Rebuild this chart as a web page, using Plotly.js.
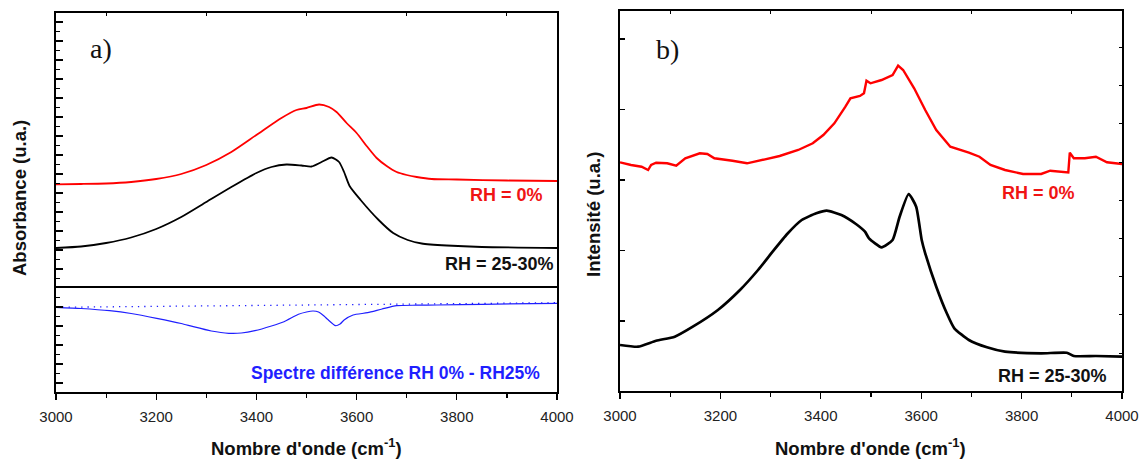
<!DOCTYPE html>
<html>
<head>
<meta charset="utf-8">
<script src="https://cdn.plot.ly/plotly-3.0.1.min.js"></script>
<style>html,body{margin:0;padding:0;background:#fff;}#chart{width:1139px;height:461px;}</style>
</head>
<body>
<div id="chart"></div>
<script>
// ---------- Panel a) : FTIR absorbance (arbitrary units) ----------
const aRedWn   = [3000,3050,3100,3150,3200,3250,3300,3350,3400,3450,3480,3500,3525,3545,3560,3580,3600,3620,3640,3660,3680,3700,3720,3750,3800,3900,4000];
const aRedAbs  = [103.7,104,104.5,106,109,114,123,136,153,170,178,180,183.5,181,176,165,155,142,130,122,116,113,111,109,108.5,107.5,107];

const aBlackWn  = [3000,3050,3100,3150,3200,3250,3300,3350,3400,3430,3460,3490,3510,3530,3550,3565,3575,3586,3608,3644,3673,3702,3730,3780,3850,4000];
const aBlackAbs = [40,41.5,45,50.5,59,71,86,101,115,121,123.5,122.5,121.5,126,130.5,126,116,102,88,68,55,48,44.5,42.5,41,40];

const diffWn  = [3000,3050,3107,3150,3201,3250,3274,3310,3345,3370,3397,3430,3455,3484,3500,3513,3524,3535,3542,3558,3567,3575,3593,3622,3651,3680,3720,3760,3850,4000];
const diffAbs = [84.7,83.5,81.3,78.5,73.7,68.5,65.3,61,58.7,59,61.3,66,70.3,77.7,80,81,80,76,72.7,66.3,68,72,77,79.3,83,86.3,86.8,87,87.7,88.7];
const baseWn  = [3000,4000];
const baseAbs = [84.7,89.3];

// ---------- Panel b) : Raman intensity (arbitrary units) ----------
const bRedWn  = [3000,3022,3043,3056,3062,3072,3094,3112,3130,3159,3174,3188,3224,3253,3289,3318,3355,3384,3405,3427,3449,3459,3478,3486,3491,3499,3521,3543,3554,3564,3586,3608,3630,3658,3695,3716,3738,3767,3803,3839,3857,3886,3893,3896,3904,3926,3948,3970,4000];
const bRedInt = [228.7,226,224.3,221,226,228.3,227.7,225.3,232.7,237.7,237,232.7,230.3,227.7,231.7,235,241,247.7,256,267.7,284.3,292.7,295,297.7,310.3,307.7,311,316,325.3,321,302.7,281,261,244.3,238.3,234.3,226,221,217,217,220.3,218.3,218.5,238.3,232.7,232.7,234.3,228.7,227];

const bBlackWn  = [3000,3036,3072,3109,3145,3195,3239,3275,3304,3333,3362,3391,3412,3441,3470,3488,3496,3521,3543,3557,3575,3590,3601,3608,3630,3651,3666,3695,3731,3767,3839,3890,3904,3948,4000];
const bBlackInt = [46,44.3,50.3,54.3,64.3,81,101,121,139.3,157,171,177.7,180.3,176,167,159.3,152.7,143.7,151,174.3,197,184.3,151,137.7,104.3,77.7,62.7,51,43.7,39.3,37.7,38.3,35,35,34.3];

const xTickVals = [3000,3200,3400,3600,3800,4000];
const xTickText = ['3000','3200','3400','3600','3800','4000'];

const W = 1139, H = 461;
const px = v => v / W;
const py = v => 1 - v / H;

const RED = '#ff0000', BLUE = '#1f1fff', BLACK = '#000000';
const FONT = 'Liberation Sans, Arial, sans-serif';

const traces = [
  {x: aRedWn, y: aRedAbs, xaxis: 'x', yaxis: 'y', mode: 'lines', line: {color: RED, width: 1.8, shape: 'spline', smoothing: 0.7}, hoverinfo: 'skip'},
  {x: aBlackWn, y: aBlackAbs, xaxis: 'x', yaxis: 'y', mode: 'lines', line: {color: BLACK, width: 1.8, shape: 'spline', smoothing: 0.6}, hoverinfo: 'skip'},
  {x: baseWn, y: baseAbs, xaxis: 'x', yaxis: 'y2', mode: 'lines', line: {color: BLUE, width: 1.3, dash: '1.3px,5px'}, hoverinfo: 'skip'},
  {x: diffWn, y: diffAbs, xaxis: 'x', yaxis: 'y2', mode: 'lines', line: {color: BLUE, width: 1.2, shape: 'spline', smoothing: 0.6}, hoverinfo: 'skip'},
  {x: bRedWn, y: bRedInt, xaxis: 'x2', yaxis: 'y3', mode: 'lines', line: {color: RED, width: 2.4}, hoverinfo: 'skip'},
  {x: bBlackWn, y: bBlackInt, xaxis: 'x2', yaxis: 'y3', mode: 'lines', line: {color: BLACK, width: 2.7, shape: 'spline', smoothing: 0.5}, hoverinfo: 'skip'},
  // carriers for the decorative overlay axes (no visible marks)
  {x: [3000], y: [0], xaxis: 'x3', yaxis: 'y', mode: 'lines', hoverinfo: 'skip'},
  {x: [3000], y: [0], xaxis: 'x4', yaxis: 'y3', mode: 'lines', hoverinfo: 'skip'},
  {x: [3000], y: [0], xaxis: 'x2', yaxis: 'y4', mode: 'lines', hoverinfo: 'skip'}
];

const tickFont = {family: FONT, size: 15, color: '#222'};
const xBase = {
  range: [3000, 4000], showgrid: false, zeroline: false, showline: true, linecolor: BLACK, linewidth: 1.6,
  ticks: 'outside', ticklen: 6, tickwidth: 1.3, tickcolor: BLACK, tickmode: 'array', tickvals: xTickVals, ticktext: xTickText,
  tickfont: tickFont, ticklabelstandoff: 4,
  minor: {dtick: 100, tick0: 3000, ticks: 'outside', ticklen: 4, tickwidth: 1.2, tickcolor: BLACK, showgrid: false}
};
const xTop = {
  range: [3000, 4000], showgrid: false, zeroline: false, showline: true, linecolor: BLACK, linewidth: 1.6,
  side: 'top', ticks: 'inside', ticklen: 3, tickwidth: 1, tickcolor: BLACK, tick0: 3100, dtick: 200, showticklabels: false
};

const layout = {
  width: W, height: H, margin: {l: 0, r: 0, t: 0, b: 0}, paper_bgcolor: '#fff', plot_bgcolor: 'rgba(0,0,0,0)',
  showlegend: false, font: {family: FONT, color: BLACK},
  xaxis: Object.assign({}, xBase, {domain: [px(56), px(557)], anchor: 'y2', mirror: true}),
  xaxis3: Object.assign({}, xTop, {overlaying: 'x', anchor: 'y'}),
  xaxis2: Object.assign({}, xBase, {domain: [px(620), px(1122)], anchor: 'y3'}),
  xaxis4: Object.assign({}, xTop, {overlaying: 'x2', anchor: 'y3'}),
  yaxis: {domain: [py(288), py(12.5)], anchor: 'x', range: [0, 275.5], showgrid: false, zeroline: false,
    showline: true, mirror: true, linecolor: BLACK, linewidth: 1.6, ticks: 'inside', ticklen: 7, tickwidth: 1.3, tickcolor: BLACK,
    tick0: 0, dtick: 19, showticklabels: false,
    minor: {dtick: 9.5, tick0: 0, ticks: 'inside', ticklen: 3.5, tickwidth: 1.2, tickcolor: BLACK, showgrid: false}},
  yaxis2: {domain: [py(392), py(288)], anchor: 'x', range: [0, 104], showgrid: false, zeroline: false,
    showline: true, mirror: true, linecolor: BLACK, linewidth: 1.6, ticks: 'inside', ticklen: 7, tickwidth: 1.3, tickcolor: BLACK,
    tick0: 9, dtick: 19, showticklabels: false,
    minor: {dtick: 9.5, tick0: 9, ticks: 'inside', ticklen: 3.5, tickwidth: 1.2, tickcolor: BLACK, showgrid: false}},
  yaxis3: {domain: [py(391), py(11)], anchor: 'x2', range: [0, 380], showgrid: false, zeroline: false,
    showline: true, linecolor: BLACK, linewidth: 1.6, ticks: 'inside', ticklen: 5, tickwidth: 1.3, tickcolor: BLACK,
    tick0: 70, dtick: 70.5, showticklabels: false},
  yaxis4: {overlaying: 'y3', anchor: 'x2', side: 'right', range: [0, 380], showgrid: false, zeroline: false,
    showline: true, linecolor: BLACK, linewidth: 1.6, ticks: 'inside', ticklen: 3, tickwidth: 1, tickcolor: BLACK,
    tick0: 38, dtick: 38.2, showticklabels: false},
  annotations: [
    {text: 'a)', x: px(88), y: py(48), xref: 'paper', yref: 'paper', xanchor: 'left', yanchor: 'middle', showarrow: false,
      font: {family: 'Liberation Serif, Times New Roman, serif', size: 28, color: '#111'}},
    {text: 'b)', x: px(654), y: py(50), xref: 'paper', yref: 'paper', xanchor: 'left', yanchor: 'middle', showarrow: false,
      font: {family: 'Liberation Serif, Times New Roman, serif', size: 28, color: '#111'}},
    {text: '<b>RH = 0%</b>', x: px(545), y: py(195), xref: 'paper', yref: 'paper', xanchor: 'right', yanchor: 'middle', showarrow: false,
      font: {family: FONT, size: 18, color: '#f01414'}},
    {text: '<b>RH = 25-30%</b>', x: px(556), y: py(264), xref: 'paper', yref: 'paper', xanchor: 'right', yanchor: 'middle', showarrow: false,
      font: {family: FONT, size: 18, color: '#111'}},
    {text: '<b>Spectre différence RH 0% - RH25%</b>', x: px(542), y: py(373), xref: 'paper', yref: 'paper', xanchor: 'right', yanchor: 'middle', showarrow: false,
      font: {family: FONT, size: 17.5, color: '#1f1fff'}},
    {text: '<b>RH = 0%</b>', x: px(1077), y: py(193), xref: 'paper', yref: 'paper', xanchor: 'right', yanchor: 'middle', showarrow: false,
      font: {family: FONT, size: 18, color: '#f01414'}},
    {text: '<b>RH = 25-30%</b>', x: px(1109), y: py(376), xref: 'paper', yref: 'paper', xanchor: 'right', yanchor: 'middle', showarrow: false,
      font: {family: FONT, size: 18, color: '#111'}},
    {text: '<b>Absorbance (u.a.)</b>', x: px(20), y: py(198), xref: 'paper', yref: 'paper', xanchor: 'center', yanchor: 'middle', textangle: -90, showarrow: false,
      font: {family: FONT, size: 18.5, color: '#111'}},
    {text: '<b>Intensité (u.a.)</b>', x: px(594), y: py(215), xref: 'paper', yref: 'paper', xanchor: 'center', yanchor: 'middle', textangle: -90, showarrow: false,
      font: {family: FONT, size: 18.5, color: '#111'}},
    {text: "<b>Nombre d'onde (cm<sup>-1</sup>)</b>", x: px(306.5), y: py(447), xref: 'paper', yref: 'paper', xanchor: 'center', yanchor: 'middle', showarrow: false,
      font: {family: FONT, size: 18.5, color: '#111'}},
    {text: "<b>Nombre d'onde (cm<sup>-1</sup>)</b>", x: px(871), y: py(447), xref: 'paper', yref: 'paper', xanchor: 'center', yanchor: 'middle', showarrow: false,
      font: {family: FONT, size: 18.5, color: '#111'}}
  ]
};

Plotly.newPlot('chart', traces, layout, {staticPlot: true, displayModeBar: false});
</script>
</body>
</html>
